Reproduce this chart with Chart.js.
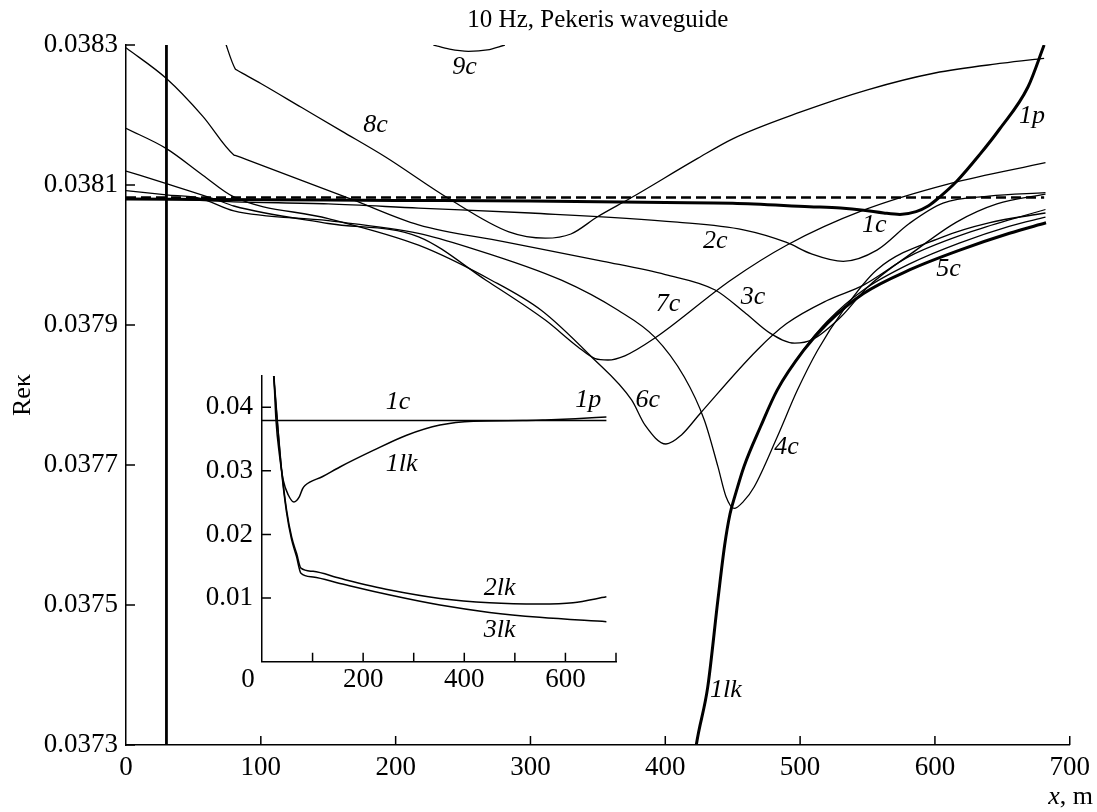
<!DOCTYPE html>
<html>
<head>
<meta charset="utf-8">
<script src="https://cdn.jsdelivr.net/npm/chart.js@4.4.1/dist/chart.umd.min.js"></script>
<style>
  html, body { margin: 0; padding: 0; background: #fff; }
  #wrap { position: relative; width: 1097px; height: 812px; }
  #main { position: absolute; left: 0; top: 0; }
  #inset { position: absolute; left: 180px; top: 346px; }
</style>
</head>
<body>
<div id="wrap">
  <canvas id="main" width="1097" height="812"></canvas>
  <canvas id="inset" width="460" height="359"></canvas>
</div>
<script>
const SERIF = '"Liberation Serif", "DejaVu Serif", serif';
Chart.defaults.font.family = SERIF;
Chart.defaults.font.size = 27;
Chart.defaults.color = "#000";

// ── Main plot: [x, m ; Re kappa] ──
const chartTitle = "10 Hz, Pekeris waveguide";
const yTitle = "Reκ";
const mainXTicks = [0, 100, 200, 300, 400, 500, 600, 700];
const mainYTicks = [0.0373, 0.0375, 0.0377, 0.0379, 0.0381, 0.0383];

const asymptote = [[0, 0.038082], [681, 0.038082]];
const mode1c1p = [[0, 0.03808], [100, 0.038079], [200, 0.038078], [300, 0.038077], [400, 0.038075], [450, 0.038074],
  [507, 0.038069], [530, 0.038067], [547, 0.038064], [562, 0.03806], [574, 0.038058], [586, 0.038062], [595, 0.03807],
  [603, 0.038082], [616, 0.038105], [633, 0.038143], [648, 0.03818], [669, 0.03824], [681, 0.0383]];
const mode2c = [[0, 0.03808], [40, 0.038079], [80, 0.038076], [150, 0.038073], [217, 0.038067], [300, 0.03806],
  [409, 0.038047], [458, 0.038036], [490, 0.038018], [508, 0.038002], [532, 0.037991], [557, 0.038007],
  [581, 0.038045], [606, 0.038074], [640, 0.038084], [682, 0.038089]];
const mode3c = [[0, 0.038296], [30, 0.038252], [57, 0.038198], [80, 0.038143], [81.5, 0.038142], [90, 0.038136],
  [168, 0.038079], [217, 0.038043], [280, 0.038019], [354, 0.037991], [400, 0.037972], [437, 0.03795],
  [460, 0.037916], [478, 0.037888], [496, 0.037874], [509, 0.037879], [530, 0.037911], [550, 0.037954],
  [586, 0.038007], [616, 0.038047], [646, 0.038073], [682, 0.038087]];
const mode4c = [[0, 0.038092], [30, 0.038086], [55, 0.038081], [80, 0.038063], [150, 0.038049], [217, 0.038031],
  [254, 0.038011], [323, 0.037964], [365, 0.037921], [392, 0.037883], [414, 0.037826], [429, 0.037764],
  [439, 0.037698], [445, 0.037655], [451, 0.037638], [458, 0.037648], [466, 0.037669], [483, 0.03774],
  [498, 0.037807], [513, 0.037864], [532, 0.037921], [557, 0.037979], [606, 0.038026], [640, 0.038046],
  [682, 0.03806]];
const mode5c = [[421, 0.03727], [423, 0.0373], [431.5, 0.037383], [439, 0.037507], [444, 0.037585], [448, 0.03763],
  [452, 0.037658], [458.4, 0.037698], [470.7, 0.037755], [483, 0.037807], [502.7, 0.037865], [520, 0.037905],
  [547, 0.03795], [582, 0.037988], [618, 0.038017], [655, 0.038041], [682, 0.038054]];
const mode6c = [[0, 0.038181], [30, 0.038152], [57, 0.038114], [80, 0.038083], [150, 0.038052], [217, 0.038014],
  [271, 0.037964], [308, 0.037921], [345, 0.037855], [375, 0.037793], [385, 0.037757], [400.5, 0.03773],
  [412, 0.037743], [426, 0.037774], [468, 0.037864], [490, 0.037902], [520, 0.037935], [547, 0.037957],
  [581, 0.037998], [631, 0.038036], [682, 0.038065]];
const mode7c = [[0, 0.03812], [30, 0.038102], [67, 0.038079], [80, 0.03807], [150, 0.038045], [217, 0.038026],
  [267, 0.037964], [311, 0.037907], [335, 0.037869], [348, 0.037852], [357.5, 0.03785], [370, 0.037856],
  [392, 0.037881], [448.5, 0.037964], [490, 0.038014], [547, 0.038064], [611, 0.038102], [682, 0.038132]];
const mode8c = [[72.5, 0.03831], [81, 0.038266], [82.5, 0.038264], [88, 0.038258], [100, 0.038245], [130, 0.038211],
  [160, 0.038177], [192.5, 0.03814], [239, 0.038081], [284, 0.038033], [311, 0.038024], [330, 0.03803],
  [350, 0.038055], [374, 0.038081], [424, 0.038138], [450, 0.038166], [500, 0.038204], [550, 0.038236],
  [600, 0.03826], [650, 0.038274], [681, 0.038281]];
const mode9c = [[228, 0.0383], [240, 0.038294], [254, 0.038291], [268, 0.038293], [281, 0.0383]];
const mode1lkNear = [[30, 0.0372], [30, 0.0384]];
const mode1lk = [[421, 0.03727], [423, 0.0373], [431.5, 0.037383], [439, 0.037507], [444, 0.037585], [448, 0.03763],
  [452, 0.037658], [458.4, 0.037698], [470.7, 0.037755], [483, 0.037807], [502.7, 0.037864], [520, 0.037902],
  [547, 0.037945], [581.5, 0.037979], [618.4, 0.038007], [655.3, 0.038031], [682.4, 0.038046]];

const mainLabels = ["9c", "8c", "1p", "1c", "2c", "3c", "7c", "5c", "6c", "4c", "1lk"];
const mainLabelX = [251, 185, 672, 555, 437, 465, 402, 610, 387, 490, 445];
const mainLabelY = [0.038269, 0.038186, 0.038199, 0.038043, 0.03802, 0.03794, 0.03793, 0.03798, 0.037793, 0.037726, 0.037379];

// ── Inset ──
const insetXTicks = [0, 100, 200, 300, 400, 500, 600, 700];
const insetXLabelled = [200, 400, 600];
const insetYTicks = [0.01, 0.02, 0.03, 0.04];

const inset1c = [[0, 0.0379], [681, 0.0379]];
const inset1lk = [[23.5, 0.0449], [27.7, 0.0379], [34.2, 0.0327], [42.1, 0.0285], [52, 0.0262], [63.2, 0.0251],
  [73.7, 0.0259], [80.4, 0.0272], [85, 0.0277], [120, 0.0291], [154, 0.0306], [220, 0.0332], [286, 0.0356],
  [352, 0.0372], [418, 0.0378], [516, 0.0379], [560, 0.038], [620, 0.0382], [681, 0.03846]];
const inset2lk = [[23.5, 0.0449], [30.3, 0.0379], [38.9, 0.0301], [48.7, 0.0238], [58.6, 0.0196], [68.5, 0.017],
  [77, 0.0147], [101, 0.0142], [154, 0.0131], [253, 0.01126], [352, 0.00995], [450, 0.00926], [549, 0.00906],
  [615, 0.00926], [681, 0.0102]];
const inset3lk = [[23, 0.0449], [30, 0.0379], [38.5, 0.0301], [48.3, 0.0236], [58.2, 0.0193], [68, 0.0166],
  [77, 0.0139], [101, 0.0133], [154, 0.0123], [253, 0.01047], [352, 0.0089], [450, 0.00775], [549, 0.00697],
  [681, 0.00628]];

const insetLabels = ["1c", "1p", "1lk", "2lk", "3lk"];
const insetLabelX = [269, 645, 276, 470, 470];
const insetLabelY = [0.0408, 0.0411, 0.0311, 0.0115, 0.005];

// ── helpers ──
function lineSet(points, width, extra) {
  return Object.assign({
    data: points.map(p => ({ x: p[0], y: p[1] })),
    borderColor: "#000",
    borderWidth: width,
    pointRadius: 0,
    fill: false,
    cubicInterpolationMode: "monotone"
  }, extra || {});
}

// tick marks pointing into the plot
function innerTicks(xTicks, yTicks, len) {
  return {
    id: "innerTicks",
    afterDraw(chart) {
      const { ctx, chartArea: a, scales: { x, y } } = chart;
      ctx.save();
      ctx.strokeStyle = "#000";
      ctx.lineWidth = 1.5;
      ctx.beginPath();
      xTicks.forEach(v => {
        const px = x.getPixelForValue(v);
        ctx.moveTo(px, a.bottom);
        ctx.lineTo(px, a.bottom - len);
      });
      yTicks.forEach(v => {
        const py = y.getPixelForValue(v);
        ctx.moveTo(a.left, py);
        ctx.lineTo(a.left + len, py);
      });
      ctx.stroke();
      ctx.restore();
    }
  };
}

function curveLabels(texts, xs, ys) {
  return {
    id: "curveLabels",
    afterDraw(chart) {
      const { ctx, scales: { x, y } } = chart;
      ctx.save();
      ctx.fillStyle = "#000";
      ctx.font = `italic 26px ${SERIF}`;
      ctx.textAlign = "center";
      ctx.textBaseline = "middle";
      texts.forEach((t, i) => ctx.fillText(t, x.getPixelForValue(xs[i]), y.getPixelForValue(ys[i])));
      ctx.restore();
    }
  };
}

const mainText = {
  id: "mainText",
  afterDraw(chart) {
    const { ctx, chartArea: a } = chart;
    ctx.save();
    ctx.fillStyle = "#000";
    ctx.textBaseline = "middle";
    ctx.font = `25px ${SERIF}`;
    ctx.textAlign = "center";
    ctx.fillText(chartTitle, (a.left + a.right) / 2, 20);

    ctx.font = `26px ${SERIF}`;
    ctx.save();
    ctx.translate(23, 395);
    ctx.rotate(-Math.PI / 2);
    ctx.fillText(yTitle, 0, 0);
    ctx.restore();

    // "x, m" with italic x
    ctx.textAlign = "left";
    const rest = ", m";
    const wRest = ctx.measureText(rest).width;
    ctx.font = `italic 26px ${SERIF}`;
    const wX = ctx.measureText("x").width;
    const x0 = 1093 - wRest - wX;
    ctx.fillText("x", x0, 797);
    ctx.font = `26px ${SERIF}`;
    ctx.fillText(rest, x0 + wX, 797);
    ctx.restore();
  }
};

const insetZero = {
  id: "insetZero",
  afterDraw(chart) {
    const { ctx, chartArea: a, scales: { x } } = chart;
    ctx.save();
    ctx.fillStyle = "#000";
    ctx.font = `27px ${SERIF}`;
    ctx.textAlign = "center";
    ctx.textBaseline = "middle";
    ctx.fillText("0", x.getPixelForValue(0) - 14, a.bottom + 18);
    ctx.restore();
  }
};

const axisStyle = {
  grid: { display: false, drawTicks: false },
  border: { display: true, color: "#000", width: 1.5 }
};

// ── Main chart ──
new Chart(document.getElementById("main"), {
  type: "line",
  data: {
    datasets: [
      lineSet(asymptote, 2.5, { borderDash: [10, 5], cubicInterpolationMode: "default" }),
      lineSet(mode2c, 1.3),
      lineSet(mode3c, 1.3),
      lineSet(mode4c, 1.3),
      lineSet(mode5c, 1.3),
      lineSet(mode6c, 1.3),
      lineSet(mode7c, 1.3),
      lineSet(mode8c, 1.3),
      lineSet(mode9c, 1.3),
      lineSet(mode1c1p, 3),
      lineSet(mode1lkNear, 2.8, { cubicInterpolationMode: "default" }),
      lineSet(mode1lk, 3)
    ]
  },
  options: {
    responsive: false,
    animation: false,
    devicePixelRatio: 1,
    layout: { padding: { left: 0, top: 45, right: 23, bottom: 0 } },
    plugins: { legend: { display: false }, tooltip: { enabled: false } },
    scales: {
      x: Object.assign({
        type: "linear", min: 0, max: 700,
        afterFit: s => { s.height = 67; },
        afterBuildTicks: s => { s.ticks = mainXTicks.map(v => ({ value: v })); },
        ticks: { padding: 7, autoSkip: false, maxRotation: 0, callback: v => String(v) }
      }, axisStyle),
      y: Object.assign({
        type: "linear", min: 0.0373, max: 0.0383,
        afterFit: s => { s.width = 126; },
        afterBuildTicks: s => { s.ticks = mainYTicks.map(v => ({ value: v })); },
        ticks: { padding: 8, autoSkip: false, callback: v => v.toFixed(4) }
      }, axisStyle)
    }
  },
  plugins: [innerTicks(mainXTicks.slice(1), mainYTicks, 9), curveLabels(mainLabels, mainLabelX, mainLabelY), mainText]
});

// ── Inset chart ──
new Chart(document.getElementById("inset"), {
  type: "line",
  data: {
    datasets: [
      lineSet(inset1c, 1.5, { cubicInterpolationMode: "default" }),
      lineSet(inset1lk, 1.5),
      lineSet(inset2lk, 1.5),
      lineSet(inset3lk, 1.5)
    ]
  },
  options: {
    responsive: false,
    animation: false,
    devicePixelRatio: 1,
    layout: { padding: { left: 0, top: 30, right: 24, bottom: 0 } },
    plugins: { legend: { display: false }, tooltip: { enabled: false } },
    scales: {
      x: Object.assign({
        type: "linear", min: 0, max: 700,
        afterFit: s => { s.height = 43.3; },
        afterBuildTicks: s => { s.ticks = insetXTicks.map(v => ({ value: v })); },
        ticks: { padding: 2, autoSkip: false, maxRotation: 0, callback: v => insetXLabelled.includes(v) ? String(v) : "" }
      }, axisStyle),
      y: Object.assign({
        type: "linear", min: 0, max: 0.0449,
        afterFit: s => { s.width = 82; },
        afterBuildTicks: s => { s.ticks = insetYTicks.map(v => ({ value: v })); },
        ticks: { padding: 9, autoSkip: false, callback: v => v.toFixed(2) }
      }, axisStyle)
    }
  },
  plugins: [innerTicks(insetXTicks.slice(1), insetYTicks, 9), curveLabels(insetLabels, insetLabelX, insetLabelY), insetZero]
});
</script>
</body>
</html>
